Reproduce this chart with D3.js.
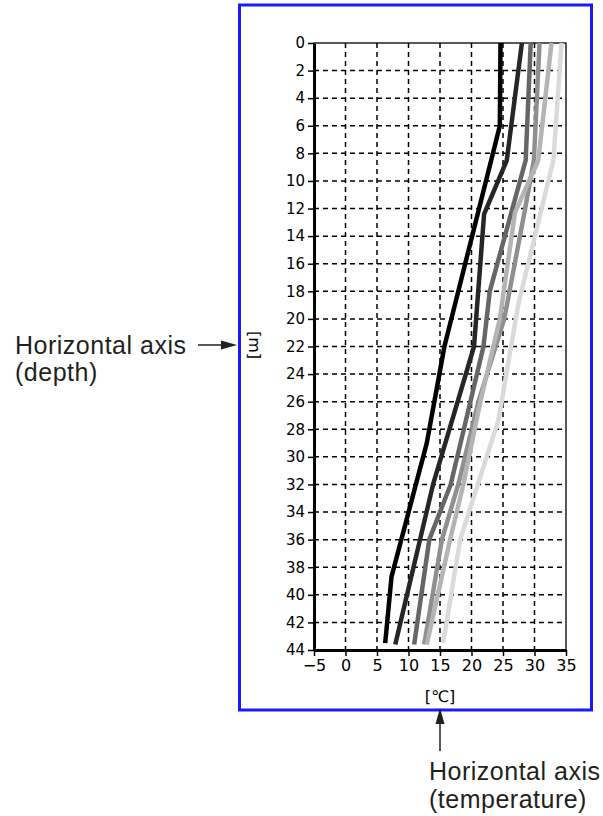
<!DOCTYPE html>
<html><head><meta charset="utf-8">
<script src="https://cdn.jsdelivr.net/npm/d3@7"></script>
<style>body{margin:0;background:#fff} svg{display:block}</style>
</head><body><div id="chart"></div>
<script>
// ---- data ----
const xTicks = [-5, 0, 5, 10, 15, 20, 25, 30, 35];
const yTicks = [0, 2, 4, 6, 8, 10, 12, 14, 16, 18, 20, 22, 24, 26, 28, 30, 32, 34, 36, 38, 40, 42, 44];
const seriesColors = ["#000000", "#262626", "#666666", "#8f8f8f", "#b4b4b4", "#dadada"];
const s1Depth = [0, 6, 22, 29, 38.7, 43.5];
const s1Temp  = [24.6, 24.5, 15.7, 12.9, 7.3, 6.3];
const s2Depth = [0, 8.5, 12.4, 22, 32, 43.6];
const s2Temp  = [28.0, 25.6, 22.0, 20.4, 13.9, 7.9];
const s3Depth = [0, 8.5, 18, 22, 32, 36, 43.6];
const s3Temp  = [29.4, 28.6, 22.9, 21.9, 16.7, 13.3, 10.9];
const s4Depth = [0, 8.5, 12.3, 20, 26, 32, 36, 43.6];
const s4Temp  = [30.8, 29.9, 28.4, 25.2, 21.1, 17.9, 15.3, 12.5];
const s5Depth = [0, 8.5, 12.3, 20, 26, 32, 36, 43.6];
const s5Temp  = [32.7, 30.6, 26.9, 24.5, 21.4, 18.7, 16.6, 12.9];
const s6Depth = [0, 8.5, 19, 27.3, 36, 43.5];
const s6Temp  = [34.3, 33.0, 27.4, 24.3, 18.2, 15.5];
const seriesDepths = [s1Depth, s2Depth, s3Depth, s4Depth, s5Depth, s6Depth];
const seriesTemps  = [s1Temp, s2Temp, s3Temp, s4Temp, s5Temp, s6Temp];

// ---- drawing ----
const W = 603, H = 816;
const svg = d3.select("#chart").append("svg").attr("width", W).attr("height", H);
const x = d3.scaleLinear().domain([-5, 35]).range([314, 566]);
const y = d3.scaleLinear().domain([0, 44]).range([43, 650]);
const tickFont = "DejaVu Sans, Verdana, sans-serif";

// blue frame
svg.append("rect").attr("x", 239.5).attr("y", 5).attr("width", 352).attr("height", 705)
  .attr("fill", "none").attr("stroke", "#1a1aff").attr("stroke-width", 3);

// grid
const grid = svg.append("g").attr("stroke", "#000").attr("stroke-width", 1.5).attr("stroke-dasharray", "5,4");
grid.selectAll("line.v").data(xTicks.slice(1, -1)).join("line").attr("class", "v")
  .attr("x1", d => x(d)).attr("x2", d => x(d)).attr("y1", y(0)).attr("y2", y(44));
grid.selectAll("line.h").data(yTicks.slice(1, -1)).join("line").attr("class", "h")
  .attr("y1", d => y(d)).attr("y2", d => y(d)).attr("x1", x(-5)).attr("x2", x(35));

// plot border
svg.append("rect").attr("x", x(-5)).attr("y", y(0)).attr("width", x(35) - x(-5)).attr("height", y(44) - y(0))
  .attr("fill", "none").attr("stroke", "#000").attr("stroke-width", 1.3);

// series lines
const line = d3.line().x(d => x(d[1])).y(d => y(d[0]));
seriesDepths.forEach((dep, i) => {
  const pts = dep.map((d, j) => [d, seriesTemps[i][j]]);
  svg.append("path").datum(pts).attr("d", line).attr("fill", "none")
    .attr("stroke", seriesColors[i]).attr("stroke-width", 4.5).attr("stroke-linejoin", "round");
});

// axes
const yAxis = svg.append("g").attr("transform", `translate(${x(-5)},0)`)
  .call(d3.axisLeft(y).tickValues(yTicks).tickSize(6).tickSizeOuter(0).tickPadding(3));
yAxis.select(".domain").attr("stroke-width", 3);
yAxis.selectAll(".tick line").attr("stroke-width", 1.5);
yAxis.selectAll("text").attr("font-family", tickFont).attr("font-size", 15).attr("fill", "#000");

const xAxis = svg.append("g").attr("transform", `translate(0,${y(44)})`)
  .call(d3.axisBottom(x).tickValues(xTicks).tickSize(6).tickSizeOuter(0).tickPadding(4));
xAxis.select(".domain").attr("stroke-width", 3);
xAxis.selectAll(".tick line").attr("stroke-width", 1.5);
xAxis.selectAll("text").attr("font-family", tickFont).attr("font-size", 16).attr("fill", "#000");

// axis titles
svg.append("text").attr("transform", "translate(254,345) rotate(90)").attr("text-anchor", "middle")
  .attr("dominant-baseline", "central").attr("font-family", tickFont)
  .attr("font-size", 16).text("[m]");
svg.append("text").attr("x", 440).attr("y", 702).attr("text-anchor", "middle")
  .attr("font-family", tickFont).attr("font-size", 16).text("[℃]");

// annotations
const annFont = "Liberation Sans, Arial, sans-serif";
const ann = svg.append("g").attr("font-family", annFont).attr("font-size", 25)
  .attr("letter-spacing", 0.5).attr("fill", "#231f20");
ann.append("text").attr("x", 15).attr("y", 354).text("Horizontal axis");
ann.append("text").attr("x", 15).attr("y", 381).text("(depth)");
ann.append("text").attr("x", 429).attr("y", 780).text("Horizontal axis");
ann.append("text").attr("x", 429).attr("y", 808).text("(temperature)");

// arrows
svg.append("line").attr("x1", 198).attr("x2", 224).attr("y1", 345).attr("y2", 345)
  .attr("stroke", "#231f20").attr("stroke-width", 1.5);
svg.append("path").attr("d", "M237,345 L221,340.5 L221,349.5 Z").attr("fill", "#231f20");
svg.append("line").attr("x1", 440).attr("x2", 440).attr("y1", 751).attr("y2", 722)
  .attr("stroke", "#231f20").attr("stroke-width", 1.5);
svg.append("path").attr("d", "M440,708 L435.5,724 L444.5,724 Z").attr("fill", "#231f20");
</script>
</body></html>
